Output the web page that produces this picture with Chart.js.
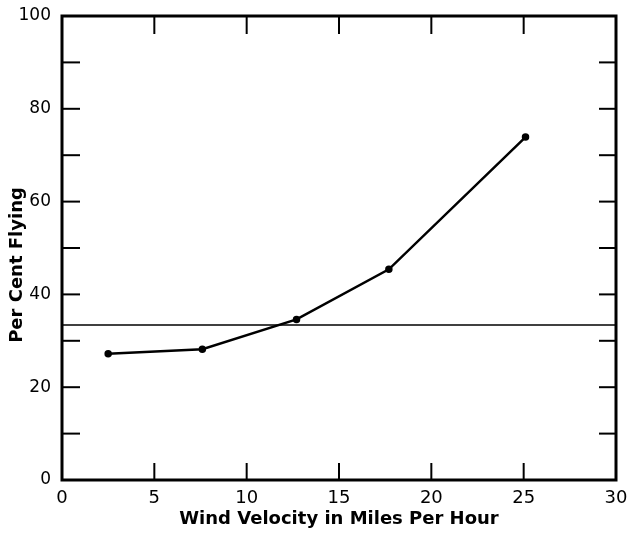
<!DOCTYPE html>
<html>
<head>
<meta charset="utf-8">
<script src="https://cdn.jsdelivr.net/npm/chart.js@4"></script>
<style>
  html, body { margin: 0; padding: 0; background: #fff; }
  #wrap { width: 630px; height: 536px; }
</style>
</head>
<body>
<div id="wrap"><canvas id="windChart" width="630" height="536"></canvas></div>
<script>
// values
var windSpeed = [2.5, 7.6, 12.7, 17.7, 25.1];
var perCentFlying = [27.2, 28.2, 34.6, 45.4, 73.9];
var refLevel = 33.4;
var xTicks = [0, 5, 10, 15, 20, 25, 30];
var yTicks = [0, 10, 20, 30, 40, 50, 60, 70, 80, 90, 100];
var xTitle = 'Wind Velocity in Miles Per Hour';
var yTitle = 'Per Cent Flying';

var font = "'DejaVu Sans', sans-serif";

// inward ticks on all four sides, heavy frame, axis titles
var framePlugin = {
    id: 'frame',
    afterDatasetsDraw: function (chart) {
        var c = chart.ctx, a = chart.chartArea;
        var xs = chart.scales.x, ys = chart.scales.y;
        c.save();
        c.strokeStyle = '#000';
        c.lineWidth = 2;
        xTicks.forEach(function (v) {
            var px = xs.getPixelForValue(v);
            c.beginPath(); c.moveTo(px, a.bottom); c.lineTo(px, a.bottom - 17); c.stroke();
            c.beginPath(); c.moveTo(px, a.top); c.lineTo(px, a.top + 18); c.stroke();
        });
        yTicks.forEach(function (v) {
            var py = ys.getPixelForValue(v);
            c.beginPath(); c.moveTo(a.left, py); c.lineTo(a.left + 18, py); c.stroke();
            c.beginPath(); c.moveTo(a.right, py); c.lineTo(a.right - 17, py); c.stroke();
        });
        c.lineWidth = 3;
        c.strokeRect(a.left, a.top, a.right - a.left, a.bottom - a.top);

        c.fillStyle = '#000';
        c.font = 'bold 18px ' + font;
        c.textAlign = 'center';
        c.textBaseline = 'alphabetic';
        c.fillText(xTitle, (a.left + a.right) / 2, 524);
        c.translate(22, 265);
        c.rotate(-Math.PI / 2);
        c.fillText(yTitle, 0, 0);
        c.restore();
    }
};

new Chart(document.getElementById('windChart'), {
    type: 'scatter',
    data: {
        datasets: [{
            data: windSpeed.map(function (x, i) { return { x: x, y: perCentFlying[i] }; }),
            showLine: true,
            borderColor: '#000',
            backgroundColor: '#000',
            borderWidth: 2.5,
            pointRadius: 2.5,
            pointHoverRadius: 2.5
        }, {
            data: [{ x: 0, y: refLevel }, { x: 30, y: refLevel }],
            showLine: true,
            borderColor: '#000',
            borderWidth: 1.5,
            pointRadius: 0
        }]
    },
    options: {
        responsive: false,
        animation: false,
        layout: { padding: { top: 16, right: 14, left: 0, bottom: 0 } },
        plugins: { legend: { display: false }, tooltip: { enabled: false } },
        scales: {
            x: {
                type: 'linear', min: 0, max: 30,
                afterTickToLabelConversion: function (s) {
                    s.ticks = xTicks.map(function (v) { return { value: v, label: String(v) }; });
                },
                afterFit: function (s) { s.height = 56; },
                grid: { display: false },
                border: { display: false },
                ticks: { color: '#000', font: { family: font, size: 18 }, padding: 0, maxRotation: 0 }
            },
            y: {
                type: 'linear', min: 0, max: 100,
                afterTickToLabelConversion: function (s) {
                    s.ticks = yTicks.map(function (v) { return { value: v, label: v % 20 === 0 ? String(v) : '' }; });
                },
                afterFit: function (s) { s.width = 62; },
                grid: { display: false },
                border: { display: false },
                ticks: { color: '#000', font: { family: font, size: 17 }, padding: 3 }
            }
        }
    },
    plugins: [framePlugin]
});
</script>
</body>
</html>
